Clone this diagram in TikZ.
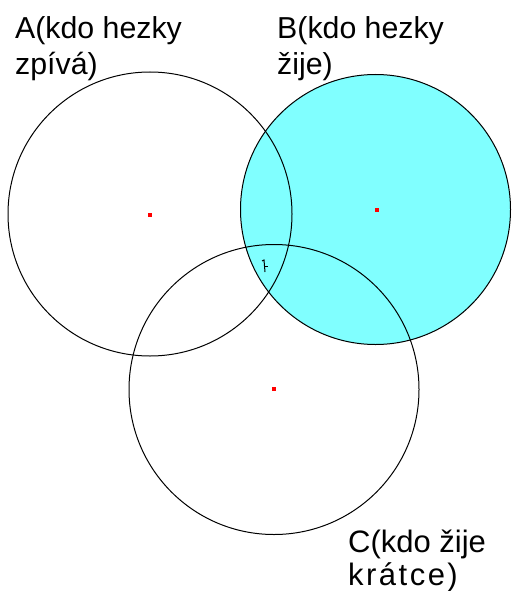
\documentclass[tikz,border=0pt]{standalone}
\usepackage{fontspec}
\setmainfont{Liberation Sans}
\definecolor{cyanfill}{RGB}{128,255,255}
\begin{document}
\begin{tikzpicture}[x=1pt,y=-1pt,
  setc/.style={circle,draw=black,line width=1pt,inner sep=0pt,outer sep=0pt},
  ctr/.style={fill=red,minimum size=4pt,inner sep=0pt,outer sep=0pt},
  lbl/.style={anchor=base west,inner sep=0pt,font=\fontsize{30.3}{35}\selectfont},
  lblc/.style={anchor=base west,inner sep=0pt,font=\fontsize{31}{35}\selectfont}]
\useasboundingbox (0,0) rectangle (511,591);
\node[setc,fill=cyanfill,minimum size=270pt] (B) at (375.5,209.5) {};
\node[setc,minimum size=284pt] (A) at (150,214) {};
\node[setc,minimum size=290pt] (C) at (274,389.5) {};
\node[ctr] (a0) at (150,215) {};
\node[ctr] (b0) at (377,210) {};
\node[ctr] (c0) at (274,389) {};
\coordinate (m1) at (262,261);
\coordinate (m2) at (264,260);
\coordinate (m3) at (265,272);
\coordinate (m4) at (264,266);
\coordinate (m5) at (268,266);
\draw[line width=1pt] (m1) -- (m2) -- (m3);
\draw[line width=1pt] (m4) -- (m5);
\node[lbl] (ta1) at (15,39) {A(kdo hezky};
\node[lbl] (ta2) at (15,75) {zpívá)};
\node[lbl] (tb1) at (277,39) {B(kdo hezky};
\node[lbl] (tb2) at (277,75) {žije)};
\node[lblc] (tc1) at (348,552) {C(kdo žije};
\node[lblc] (tc2) at (348,585) {\addfontfeature{LetterSpace=8}krátce)};
\end{tikzpicture}
\end{document}
